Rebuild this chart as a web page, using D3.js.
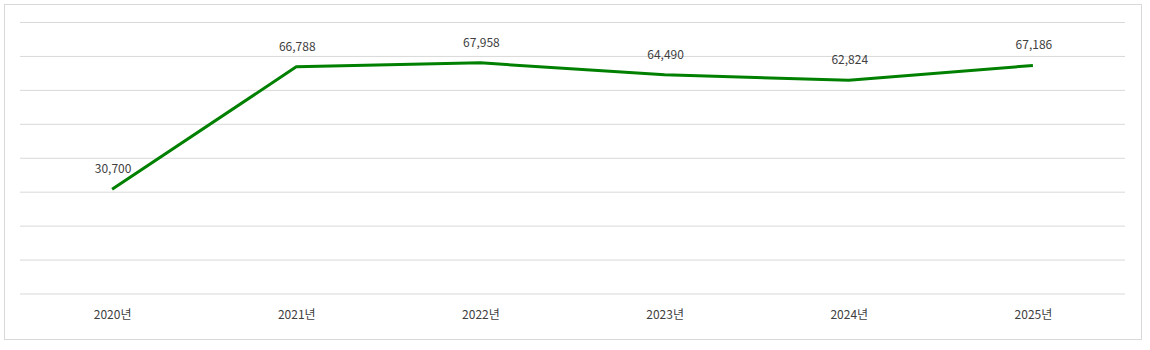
<!DOCTYPE html>
<html>
<head>
<meta charset="utf-8">
<script src="https://cdn.jsdelivr.net/npm/d3@7"></script>
<style>
  html, body { margin: 0; padding: 0; background: #fff; }
  svg { display: block; }
  text { font-family: "Noto Sans CJK KR", "Noto Sans", sans-serif; fill: #404040; font-size: 12px; }
</style>
</head>
<body>
<svg id="chart" width="1150" height="350"></svg>
<script>
const years = ["2020년", "2021년", "2022년", "2023년", "2024년", "2025년"];
const values = [30700, 66788, 67958, 64490, 62824, 67186];
const yTicks = [0, 10000, 20000, 30000, 40000, 50000, 60000, 70000, 80000];

const svg = d3.select("#chart");
const plot = { left: 20, right: 1125, top: 22, bottom: 293.5 };

// Outer frame
svg.append("rect")
  .attr("x", 4.5).attr("y", 4.5)
  .attr("width", 1137).attr("height", 335)
  .attr("fill", "#fff").attr("stroke", "#d9d9d9").attr("stroke-width", 1);

const x = d3.scalePoint().domain(years).range([plot.left, plot.right]).padding(0.5);
const y = d3.scaleLinear().domain([0, 80000]).range([plot.bottom, plot.top]);

// Horizontal gridlines
svg.append("g")
  .attr("transform", `translate(${plot.left},0)`)
  .call(d3.axisLeft(y).tickValues(yTicks).tickSize(-(plot.right - plot.left)).tickFormat(""))
  .call(g => g.select(".domain").remove())
  .call(g => g.selectAll(".tick line").attr("stroke", "#d9d9d9").attr("stroke-width", 1));

// Category axis labels
svg.append("g")
  .attr("transform", `translate(0,${plot.bottom})`)
  .call(d3.axisBottom(x).tickSize(0).tickPadding(17))
  .call(g => g.select(".domain").remove())
  .call(g => g.selectAll("text")
    .style("font-family", "\"Noto Sans CJK KR\", sans-serif")
    .style("font-size", "12px")
    .attr("fill", "#404040"));

const data = years.map((k, i) => ({ k, v: values[i] }));

// Series line
svg.append("path")
  .datum(data)
  .attr("fill", "none")
  .attr("stroke", "#008000")
  .attr("stroke-width", 3)
  .attr("stroke-linejoin", "round")
  .attr("d", d3.line().x(d => x(d.k)).y(d => y(d.v)));

// Value labels
svg.append("g").selectAll("text")
  .data(data)
  .join("text")
  .attr("x", d => x(d.k) + 1)
  .attr("y", d => y(d.v) - 16)
  .attr("text-anchor", "middle")
  .text(d => d3.format(",")(d.v));
</script>
</body>
</html>
